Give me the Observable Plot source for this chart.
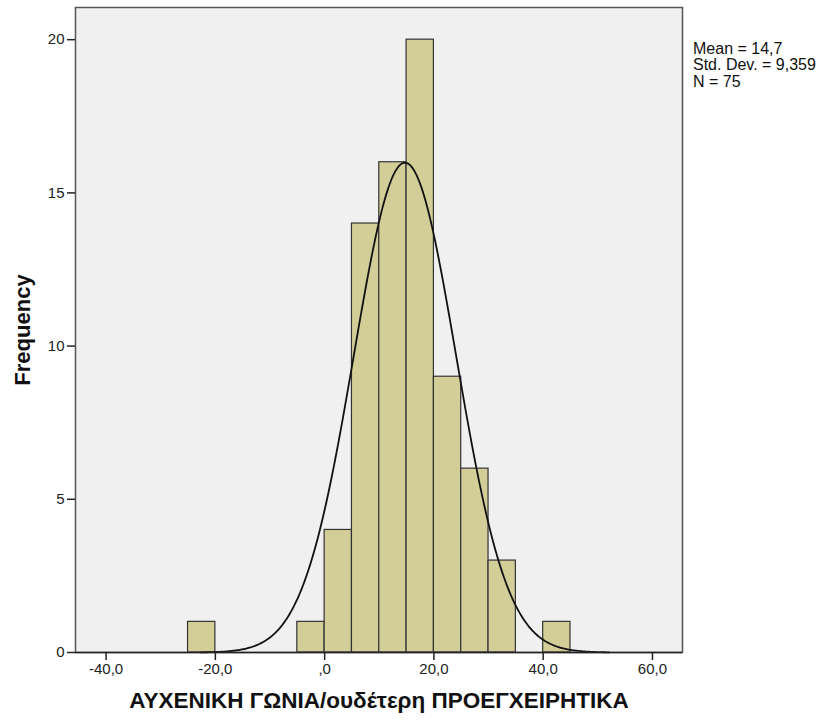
<!DOCTYPE html>
<html>
<head>
<meta charset="utf-8">
<script src="https://cdn.jsdelivr.net/npm/d3@7"></script>
<script src="https://cdn.jsdelivr.net/npm/@observablehq/plot@0.6"></script>
<style>
  html, body { margin: 0; padding: 0; background: #fff; }
  #chart { width: 819px; height: 722px; }
</style>
</head>
<body>
<div id="chart"></div>
<script>
// ---- data ----
const binStarts = [-25, -5, 0, 5, 10, 15, 20, 25, 30, 40];
const binEnds   = [-20,  0, 5, 10, 15, 20, 25, 30, 35, 45];
const counts    = [1, 1, 4, 14, 16, 20, 9, 6, 3, 1];
const xTicks = [-40, -20, 0, 20, 40, 60];
const yTicks = [0, 5, 10, 15, 20];
const statMean = 14.7;
const statSD = 9.359;
const statN = 75;
const binWidth = 5;
const xTitle = "ΑΥΧΕΝΙΚΗ ΓΩΝΙΑ/ουδέτερη ΠΡΟΕΓΧΕΙΡΗΤΙΚΑ";
const yTitle = "Frequency";
const statLines = ["Mean = 14,7", "Std. Dev. = 9,359", "N = 75"];

const bins = binStarts.map((s, i) => ({lo: s, hi: binEnds[i], count: counts[i]}));

// fitted normal curve defined by the stated mean / sd / N (SPSS "normal curve")
const curve = [];
for (let x = statMean - 4 * statSD; x <= statMean + 4 * statSD + 1e-9; x += 0.2) {
  const z = (x - statMean) / statSD;
  curve.push({x, y: statN * binWidth * Math.exp(-0.5 * z * z) / (statSD * Math.sqrt(2 * Math.PI))});
}

const fmtX = d => d === 0 ? ",0" : d.toFixed(1).replace(".", ",");

const chart = Plot.plot({
  width: 819,
  height: 722,
  marginLeft: 75,
  marginRight: 137,
  marginTop: 7,
  marginBottom: 70,
  style: {fontFamily: "'Liberation Sans', Arial, sans-serif", fontSize: "15px", color: "#222", background: "#fff"},
  x: {domain: [-45.6, 65.5]},
  y: {domain: [0, 21.05]},
  marks: [
    Plot.frame({fill: "#f0f0f0", stroke: null}),
    Plot.rectY(bins, {x1: "lo", x2: "hi", y: "count", fill: "#d3ce98", stroke: "#333", strokeWidth: 1.2}),
    Plot.line(curve, {x: "x", y: "y", stroke: "#111", strokeWidth: 1.8}),
    Plot.frame({stroke: "#555", strokeWidth: 1.5}),
    Plot.ruleY([0], {stroke: "#222", strokeWidth: 1.5}),
    Plot.axisX({ticks: xTicks, tickFormat: fmtX, tickSize: 8, tickPadding: 3, label: null, stroke: "#222", strokeWidth: 1.5}),
    Plot.axisY({ticks: yTicks, tickFormat: d => String(d), tickSize: 8, tickPadding: 3, label: null, stroke: "#222", strokeWidth: 1.5}),
    Plot.text([xTitle], {frameAnchor: "bottom", dy: 55, text: d => d, fontSize: 22.5, fontWeight: "bold", fill: "#111"}),
    Plot.text([yTitle], {frameAnchor: "left", dx: -53, rotate: -90, textAnchor: "middle", text: d => d, fontSize: 22, fontWeight: "bold", fill: "#111"}),
    Plot.text([statLines.join("\n")], {frameAnchor: "top-right", dx: 10.5, dy: 35, textAnchor: "start", lineAnchor: "top", lineHeight: 1.02, text: d => d, fontSize: 16, fill: "#111"})
  ]
});
document.getElementById("chart").appendChild(chart);
</script>
</body>
</html>
